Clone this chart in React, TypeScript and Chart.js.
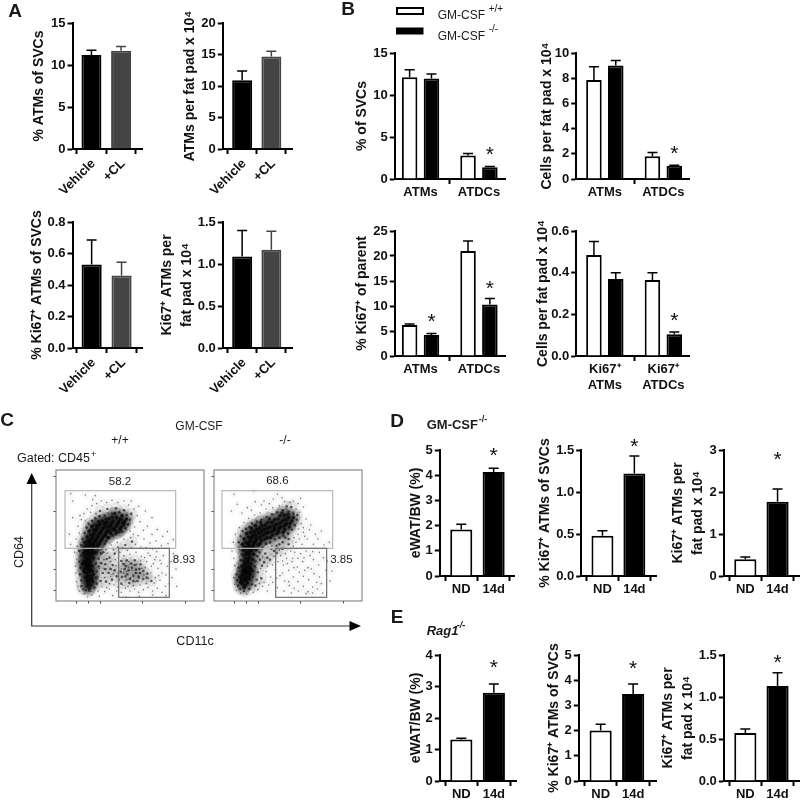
import React, { useEffect, useRef } from "react";
import { Chart, registerables } from "chart.js";

Chart.register(...registerables);

const FONT = '"Liberation Sans", Arial, sans-serif';
const WHITE = "#ffffff";
const BLACK = "#000000";
const GREY = "#444444";

// ---------- Panel A ----------
const aLabels = ["Vehicle", "+CL"];
const a1Values = [11.2, 11.7];
const a1Tops = [11.75, 12.2];
const a2Values = [10.9, 14.7];
const a2Tops = [12.4, 15.5];
const a3Values = [0.53, 0.46];
const a3Tops = [0.685, 0.545];
const a4Values = [1.09, 1.17];
const a4Tops = [1.4, 1.39];

// ---------- Panel B ----------
const bLabels = ["ATMs", "ATDCs"];
const bKiLabels = [["Ki67⁺", "ATMs"], ["Ki67⁺", "ATDCs"]];
const b1WT = [12.1, 2.8];
const b1WTTops = [13, 3.05];
const b1KO = [11.95, 1.4];
const b1KOTops = [12.5, 1.5];
const b1Stars = [null, 3.1];
const b2WT = [7.85, 1.8];
const b2WTTops = [8.9, 2.1];
const b2KO = [9.0, 1.05];
const b2KOTops = [9.4, 1.1];
const b2Stars = [null, 2.16];
const b3WT = [6.2, 21];
const b3WTTops = [6.4, 23];
const b3KO = [4.2, 10.3];
const b3KOTops = [4.5, 11.5];
const b3Stars = [7.3, 14];
const b4WT = [0.485, 0.365];
const b4WTTops = [0.55, 0.4];
const b4KO = [0.37, 0.105];
const b4KOTops = [0.4, 0.115];
const b4Stars = [null, 0.18];

// ---------- Panels D and E ----------
const ndLabels = ["ND", "14d"];
const d1Values = [1.85, 4.13];
const d1Tops = [2.05, 4.28];
const d1Stars = [null, 4.87];
const d2Values = [0.48, 1.22];
const d2Tops = [0.54, 1.43];
const d2Stars = [null, 1.57];
const d3Values = [0.4, 1.77];
const d3Tops = [0.45, 2.07];
const d3Stars = [null, 2.83];
const e1Values = [1.32, 2.8];
const e1Tops = [1.36, 3.08];
const e1Stars = [null, 3.68];
const e2Values = [2.0, 3.45];
const e2Tops = [2.25, 3.85];
const e2Stars = [null, 4.56];
const e3Values = [0.57, 1.13];
const e3Tops = [0.62, 1.29];
const e3Stars = [null, 1.44];

// ---------- Panel C: flow cytometry events ----------
const wtCore = [[97,52],[104,47],[92,60],[101,62],[110,58],[88,71],[96,74],[106,72],[112,80],[90,84],[99,88],[85,95],[94,98],[104,94],[88,108],[97,112],[108,105],[84,120],[93,124],[103,120],[112,128],[87,134],[96,140],[106,136],[88,150],[98,154],[109,150],[120,146],[92,166],[102,170],[113,164],[124,160],[97,182],[107,186],[118,178],[130,172],[104,198],[114,202],[126,194],[138,186],[112,214],[122,218],[135,208],[148,198],[120,228],[132,232],[146,222],[158,212],[140,240],[152,236],[165,226],[176,214],[160,246],[172,240],[186,232],[196,222],[182,250],[194,246],[206,238],[93,44],[100,38],[108,66],[95,66],[84,88],[110,90],[92,104],[101,106],[79,112],[90,116],[98,128],[82,142],[92,146],[102,144],[114,142],[84,160],[97,160],[108,158],[88,176],[100,176],[112,172],[125,168],[94,192],[110,194],[120,186],[134,180],[100,210],[118,210],[130,202],[142,194],[155,190],[108,224],[127,226],[140,216],[152,206],[164,204],[128,238],[146,232],[158,224],[170,216],[182,206],[150,246],[166,234],[180,224],[192,214],[204,228],[170,252],[188,240],[200,234],[176,262],[198,256],[212,246]];
const wtMid = [[76,44],[82,36],[90,32],[100,30],[115,40],[122,52],[120,70],[76,62],[72,80],[122,88],[128,104],[74,100],[70,118],[120,112],[74,136],[128,126],[136,142],[70,150],[138,158],[76,168],[146,172],[80,186],[150,180],[160,190],[86,204],[92,220],[170,196],[178,200],[98,232],[108,240],[190,206],[198,208],[118,248],[130,254],[208,218],[216,230],[222,244],[146,256],[168,262],[190,266],[212,258],[226,262],[204,272],[180,278],[154,276],[132,270],[160,130],[176,142],[148,110],[170,108],[140,84],[158,84],[176,92],[134,60],[150,58],[168,64],[196,120],[210,104],[226,112],[240,94],[214,80],[232,76],[198,72],[252,84],[262,66],[244,60],[220,54],[206,96],[274,82],[286,60],[196,52],[236,122],[254,110],[186,160],[208,168],[228,178],[218,92],[228,100],[236,108],[208,74],[222,66],[240,84],[250,96],[262,90],[272,70],[232,60],[248,72],[204,110],[194,88],[182,74],[212,122],[164,96],[146,96],[152,126],[134,114],[142,146]];
const wtSparse = [[62,58],[66,44],[70,30],[84,22],[108,18],[126,30],[138,42],[146,28],[160,36],[174,48],[182,30],[196,26],[208,38],[222,30],[236,36],[248,26],[262,34],[276,40],[290,30],[304,38],[318,26],[328,44],[340,52],[312,62],[298,70],[318,84],[330,78],[306,98],[286,104],[272,118],[296,124],[316,112],[334,104],[256,134],[276,144],[302,148],[322,136],[240,146],[222,140],[204,136],[192,146],[172,154],[154,144],[144,124],[132,146],[126,72],[152,40],[164,74],[186,84],[180,106],[196,96],[190,64],[212,64],[228,92],[242,110],[258,98],[270,52],[252,48],[232,46],[218,118],[246,76],[268,100],[284,84],[292,112],[308,76],[60,84],[58,104],[62,126],[56,146],[64,164],[60,186],[70,204],[66,224],[76,244],[84,262],[94,276],[108,286],[122,292],[136,300],[44,322],[88,318],[118,316],[152,296],[168,302],[186,296],[204,300],[218,288],[234,276],[244,256],[236,222],[252,238],[262,212],[274,224],[288,200],[304,214],[320,194],[334,208],[246,196],[264,186],[282,174],[300,180],[316,166],[336,172],[352,184],[238,170],[254,162],[270,160],[290,156],[232,200],[222,210],[120,262],[104,266],[88,240],[72,256],[50,250],[40,200],[44,170],[50,300],[110,304],[226,300],[248,284],[268,270],[288,250],[352,142],[345,118],[360,96],[348,70],[362,44],[95,12],[130,14],[170,16],[210,12],[250,14],[290,18],[330,16],[150,96],[130,98],[164,118],[178,124],[200,112],[212,88],[224,70],[238,58],[254,120],[266,130],[282,136],[300,132],[312,122],[186,42],[200,48],[216,44],[202,84],[218,100],[236,84],[250,68],[264,78],[278,68],[294,54],[160,52],[146,70],[172,82],[138,112],[150,154],[166,168],[184,176],[204,186],[224,190],[214,152],[200,160],[226,160]];

const koCore = [[86,52],[94,46],[100,54],[82,64],[90,66],[98,70],[106,66],[84,78],[92,82],[100,86],[108,80],[88,94],[96,98],[104,102],[112,94],[92,110],[100,116],[110,112],[96,128],[106,130],[116,124],[98,146],[108,148],[118,140],[92,160],[104,166],[114,160],[126,154],[96,176],[108,180],[120,174],[132,168],[104,192],[116,196],[128,188],[142,182],[120,208],[134,204],[148,198],[160,190],[136,218],[150,214],[164,206],[176,198],[154,228],[168,222],[182,214],[194,208],[174,236],[188,230],[200,222],[212,214],[192,246],[206,240],[218,232],[226,222],[212,256],[224,250],[234,240],[90,40],[80,56],[96,60],[104,74],[78,72],[86,88],[95,90],[107,90],[84,104],[108,100],[90,120],[102,122],[92,138],[104,140],[88,152],[112,152],[100,158],[86,170],[102,172],[118,166],[90,186],[112,188],[126,180],[138,172],[98,202],[110,206],[124,198],[138,192],[152,186],[112,218],[128,214],[142,208],[156,204],[170,190],[124,226],[144,226],[160,218],[174,210],[188,202],[140,236],[162,236],[180,224],[194,218],[208,206],[166,246],[182,244],[198,234],[212,226],[198,256],[216,244],[228,232],[204,264],[222,260],[238,250]];
const koMid = [[72,46],[78,36],[90,30],[106,36],[114,50],[70,62],[116,72],[68,80],[118,88],[74,100],[122,104],[80,122],[124,118],[84,140],[130,134],[76,158],[136,146],[74,176],[146,160],[80,194],[156,172],[86,210],[168,176],[182,186],[96,216],[106,222],[196,190],[208,196],[114,232],[128,238],[222,202],[234,214],[142,244],[158,252],[242,228],[248,244],[174,260],[190,266],[206,272],[224,268],[238,262],[250,258],[232,282],[218,284],[138,124],[154,142],[172,156],[188,166],[206,176],[150,116],[132,86],[142,68],[124,46],[128,64],[168,124],[188,144],[206,156],[224,186],[224,170],[144,106],[160,130],[180,150],[196,170],[214,190]];
const koSparse = [[60,70],[62,50],[68,32],[80,24],[98,20],[118,26],[132,34],[146,44],[160,30],[176,56],[140,98],[156,88],[170,72],[184,92],[198,76],[212,60],[226,46],[240,38],[254,30],[268,44],[282,28],[296,42],[310,36],[322,52],[208,108],[224,92],[238,72],[252,58],[268,74],[284,64],[300,82],[316,72],[200,136],[218,128],[234,118],[250,102],[266,118],[282,100],[298,124],[314,108],[328,130],[190,40],[210,30],[232,24],[276,22],[176,108],[160,104],[192,118],[242,146],[260,142],[276,150],[296,148],[316,146],[230,150],[246,176],[264,170],[280,186],[298,170],[312,186],[330,168],[346,176],[252,200],[268,206],[286,214],[304,200],[322,210],[262,232],[276,246],[290,228],[256,266],[268,282],[252,292],[238,300],[260,308],[212,298],[196,286],[176,280],[156,276],[138,264],[122,258],[104,248],[90,236],[76,220],[64,200],[58,176],[54,150],[60,128],[62,106],[52,270],[70,290],[100,280],[124,298],[150,300],[178,306],[60,320],[120,330],[190,320],[340,120],[354,90],[348,60],[336,92],[224,58],[206,84],[188,68],[150,56],[164,48],[136,52],[146,132],[128,120],[180,134],[196,152],[174,166],[206,120],[220,112],[240,100],[256,86],[272,92],[292,96],[308,56],[296,24],[326,24],[236,128],[252,128],[270,130],[288,136],[214,142],[238,164],[256,186],[272,194],[240,190],[254,216],[268,220],[246,276],[228,296],[204,310],[166,292],[142,288],[112,272],[84,264]];

// Gates: [xMin, xMax, yMin, yMax] in the same channel units
const wtUpperGate = [27, 359, 158, 331];
const wtLowerGate = [188, 340, 11, 158];
const koUpperGate = [24, 356, 158, 331];
const koLowerGate = [185, 338, 11, 158];
const flowYTicks = [33, 93, 153, 268, 373];
const flowXTicks = [62, 97, 132, 260, 387];

type Series = { values: number[]; tops: number[]; stars?: (number | null)[]; colors: string[]; borders: string[] };
type Panel = {
  left: number; right: number; top: number; bottom: number; t0: number; t1: number; titleX: number;
  max: number; step: number; dec: number; title: string | string[]; labels: any[]; series: Series[];
  rotate?: boolean; barW: number; pair?: number;
};

const bw = (values: number[], tops: number[], stars?: (number | null)[]): Series => ({ values, tops, stars, colors: [WHITE, BLACK], borders: [BLACK, BLACK] });
const ag = (values: number[], tops: number[]): Series => ({ values, tops, colors: [BLACK, GREY], borders: [BLACK, GREY] });
const wt = (values: number[], tops: number[]): Series => ({ values, tops, colors: [WHITE, WHITE], borders: [BLACK, BLACK] });
const ko = (values: number[], tops: number[], stars?: (number | null)[]): Series => ({ values, tops, stars, colors: [BLACK, BLACK], borders: [BLACK, BLACK] });

const panels: Panel[] = [
  { left: 72, right: 141.7, top: 22.7, bottom: 148.7, t0: 91, t1: 120.7, titleX: 39, max: 15, step: 5, dec: 0, title: "% ATMs of SVCs", labels: aLabels, series: [ag(a1Values, a1Tops)], rotate: true, barW: 20 },
  { left: 222.3, right: 291.7, top: 22.7, bottom: 149, t0: 241.7, t1: 271, titleX: 190, max: 20, step: 5, dec: 0, title: "ATMs per fat pad x 10⁴", labels: aLabels, series: [ag(a2Values, a2Tops)], rotate: true, barW: 20 },
  { left: 72, right: 141, top: 222, bottom: 348, t0: 91, t1: 120.7, titleX: 37, max: 0.8, step: 0.2, dec: 1, title: "% Ki67⁺ ATMs of SVCs", labels: aLabels, series: [ag(a3Values, a3Tops)], rotate: true, barW: 20 },
  { left: 222.3, right: 291.7, top: 222, bottom: 348, t0: 241.7, t1: 271, titleX: 167, max: 1.5, step: 0.5, dec: 1, title: ["Ki67⁺ ATMs per", "fat pad x 10⁴"], labels: aLabels, series: [ag(a4Values, a4Tops)], rotate: true, barW: 20 },
  { left: 394.3, right: 504.3, top: 52.7, bottom: 179, t0: 420, t1: 478.3, titleX: 362, max: 15, step: 5, dec: 0, title: "% of SVCs", labels: bLabels, series: [wt(b1WT, b1WTTops), ko(b1KO, b1KOTops, b1Stars)], barW: 15.5, pair: 21.8 },
  { left: 575.7, right: 688.3, top: 52.7, bottom: 179, t0: 604.3, t1: 662.7, titleX: 547, max: 10, step: 2, dec: 0, title: "Cells per fat pad x 10⁴", labels: bLabels, series: [wt(b2WT, b2WTTops), ko(b2KO, b2KOTops, b2Stars)], barW: 15.5, pair: 21.8 },
  { left: 394.3, right: 504.3, top: 230.7, bottom: 356, t0: 420, t1: 478.3, titleX: 362, max: 25, step: 5, dec: 0, title: "% Ki67⁺ of parent", labels: bLabels, series: [wt(b3WT, b3WTTops), ko(b3KO, b3KOTops, b3Stars)], barW: 15.5, pair: 21.8 },
  { left: 575.7, right: 688.3, top: 230.7, bottom: 356, t0: 604.3, t1: 662.7, titleX: 543, max: 0.6, step: 0.2, dec: 1, title: "Cells per fat pad x 10⁴", labels: bKiLabels, series: [wt(b4WT, b4WTTops), ko(b4KO, b4KOTops, b4Stars)], barW: 15.5, pair: 21.8 },
  { left: 439.3, right: 513.3, top: 450, bottom: 576, t0: 460.7, t1: 493, titleX: 416, max: 5, step: 1, dec: 0, title: "eWAT/BW (%)", labels: ndLabels, series: [bw(d1Values, d1Tops, d1Stars)], barW: 22 },
  { left: 580.7, right: 655.7, top: 450, bottom: 576, t0: 602, t1: 634, titleX: 545, max: 1.5, step: 0.5, dec: 1, title: "% Ki67⁺ ATMs of SVCs", labels: ndLabels, series: [bw(d2Values, d2Tops, d2Stars)], barW: 22 },
  { left: 723.3, right: 798, top: 450, bottom: 576, t0: 744.7, t1: 776.7, titleX: 678, max: 3, step: 1, dec: 0, title: ["Ki67⁺ ATMs per", "fat pad x 10⁴"], labels: ndLabels, series: [bw(d3Values, d3Tops, d3Stars)], barW: 22 },
  { left: 439.3, right: 515, top: 655, bottom: 781, t0: 460.7, t1: 493, titleX: 416, max: 4, step: 1, dec: 0, title: "eWAT/BW (%)", labels: ndLabels, series: [bw(e1Values, e1Tops, e1Stars)], barW: 22 },
  { left: 578.3, right: 655, top: 655, bottom: 781, t0: 600, t1: 632.3, titleX: 554, max: 5, step: 1, dec: 0, title: "% Ki67⁺ ATMs of SVCs", labels: ndLabels, series: [bw(e2Values, e2Tops, e2Stars)], barW: 22 },
  { left: 723.3, right: 798, top: 655, bottom: 781, t0: 744.7, t1: 776.7, titleX: 668, max: 1.5, step: 0.5, dec: 1, title: ["Ki67⁺ ATMs per", "fat pad x 10⁴"], labels: ndLabels, series: [bw(e3Values, e3Tops, e3Stars)], barW: 22 },
];

const PAD_TOP = 28;
const PAD_RIGHT = 40;
const BOTTOM_H = 72;
const TITLE_LH = 20;
const TICK_FONT = { family: FONT, size: 13, weight: "bold" as const };

const errorBarsPlugin = {
  id: "errorBars",
  afterDatasetsDraw(chart: any, _a: any, opts: any) {
    const { ctx } = chart;
    const y = chart.scales.y;
    (opts.series as Series[]).forEach((s, i) => {
      const meta = chart.getDatasetMeta(i);
      s.tops.forEach((top, j) => {
        const el = meta.data[j];
        const py = y.getPixelForValue(top);
        const base = y.getPixelForValue(s.values[j]);
        ctx.save();
        ctx.strokeStyle = s.borders[j];
        ctx.lineWidth = 1.5;
        ctx.beginPath();
        ctx.moveTo(el.x, base);
        ctx.lineTo(el.x, py);
        ctx.moveTo(el.x - 5, py);
        ctx.lineTo(el.x + 5, py);
        ctx.stroke();
        ctx.restore();
      });
      if (s.stars) {
        s.stars.forEach((v, j) => {
          if (v === null) return;
          const el = meta.data[j];
          ctx.save();
          ctx.fillStyle = "#111";
          ctx.font = `21px ${FONT}`;
          ctx.textAlign = "center";
          ctx.textBaseline = "alphabetic";
          ctx.fillText("*", el.x, y.getPixelForValue(v) + 8.5);
          ctx.restore();
        });
      }
    });
  },
};

function barConfig(p: Panel) {
  const spacing = p.t1 - p.t0;
  const W = p.left - p.titleX + 7.5;
  const multi = p.series.length > 1;
  return {
    W,
    config: {
      type: "bar" as const,
      data: {
        datasets: p.series.map((s) => ({
          data: s.values.map((v, i) => ({ x: i, y: v })),
          backgroundColor: s.colors,
          borderColor: s.borders,
          borderWidth: 2,
          categoryPercentage: multi ? (2 * (p.pair as number)) / spacing : 1,
          barPercentage: multi ? p.barW / (p.pair as number) : p.barW / spacing,
        })),
      },
      plugins: [errorBarsPlugin],
      options: {
        animation: false,
        responsive: false,
        layout: { padding: { top: PAD_TOP, right: PAD_RIGHT, left: 0, bottom: 0 } },
        plugins: { legend: { display: false }, tooltip: { enabled: false }, errorBars: { series: p.series } },
        scales: {
          x: {
            type: "linear",
            min: (p.left - p.t0) / spacing,
            max: (p.right - p.t0) / spacing,
            offset: false,
            afterBuildTicks: (s: any) => { s.ticks = p.labels.map((_, i) => ({ value: i })); },
            afterFit: (s: any) => { s.height = BOTTOM_H; },
            border: { display: true, color: BLACK, width: 2 },
            grid: { drawOnChartArea: false, drawTicks: true, tickLength: 5, tickWidth: 2, tickColor: BLACK },
            ticks: {
              autoSkip: false,
              maxRotation: p.rotate ? 45 : 0,
              minRotation: p.rotate ? 45 : 0,
              padding: p.rotate ? 2 : 1,
              labelOffset: p.rotate ? 2 : 0,
              color: "#111",
              font: TICK_FONT,
              callback: (_v: any, i: number) => p.labels[i],
            },
          },
          y: {
            min: 0,
            max: p.max,
            afterFit: (s: any) => { s.width = W; },
            border: { display: true, color: BLACK, width: 2 },
            grid: { drawOnChartArea: false, drawTicks: true, tickLength: 5, tickWidth: 2, tickColor: BLACK },
            ticks: { stepSize: p.step, padding: 2, color: "#111", font: TICK_FONT, callback: (v: number) => v.toFixed(p.dec) },
            title: {
              display: true,
              text: p.title,
              color: "#111",
              font: { family: FONT, size: 14, weight: "bold" as const, lineHeight: TITLE_LH / 14 },
              padding: { top: -2.5, bottom: 0 },
            },
          },
        },
      },
    },
  };
}

// ---------- Flow plots ----------
const flowPlugin = {
  id: "flowGates",
  afterDatasetsDraw(chart: any, _a: any, opts: any) {
    const { ctx, chartArea: a, scales } = chart;
    const { x, y } = scales;
    const rect = (g: number[], color: string) => {
      ctx.strokeStyle = color;
      ctx.lineWidth = 1.2;
      ctx.strokeRect(x.getPixelForValue(g[0]), y.getPixelForValue(g[3]), x.getPixelForValue(g[1]) - x.getPixelForValue(g[0]), y.getPixelForValue(g[2]) - y.getPixelForValue(g[3]));
    };
    ctx.save();
    ctx.strokeStyle = "#8a8a8a";
    ctx.lineWidth = 1.2;
    ctx.strokeRect(a.left, a.top, a.right - a.left, a.bottom - a.top);
    rect(opts.upper, "#b8b8b8");
    rect(opts.lower, "#6e6e6e");
    ctx.fillStyle = "#222";
    ctx.font = `11.5px ${FONT}`;
    ctx.textAlign = "center";
    ctx.textBaseline = "middle";
    ctx.fillText(opts.upperText, x.getPixelForValue(opts.upperAt[0]), y.getPixelForValue(opts.upperAt[1]));
    ctx.fillText(opts.lowerText, x.getPixelForValue(opts.lowerAt[0]), y.getPixelForValue(opts.lowerAt[1]));
    ctx.restore();
  },
};

function flowConfig(core: number[][], mid: number[][], sparse: number[][], o: any) {
  const pts = (l: number[][]) => l.map(([x, y]) => ({ x, y }));
  const tick = { drawOnChartArea: false, drawTicks: true, tickLength: 2.5, tickWidth: 1, tickColor: "#444" };
  const layer = (l: number[][], r: number, c: string) => ({ data: pts(l), pointRadius: r, backgroundColor: c, borderWidth: 0 });
  return {
    type: "scatter" as const,
    data: {
      datasets: [
        layer(sparse, 4, "rgba(0,0,0,0.025)"),
        layer(mid, 6, "rgba(0,0,0,0.08)"),
        layer(core, 7, "rgba(0,0,0,0.18)"),
        layer(sparse, 0.8, "rgba(0,0,0,0.5)"),
        layer(mid, 1.3, "rgba(0,0,0,0.6)"),
        layer(core, 1.8, "rgba(0,0,0,0.75)"),
      ],
    },
    plugins: [flowPlugin],
    options: {
      animation: false,
      responsive: false,
      layout: { autoPadding: false, padding: { top: 4, right: 4, left: 0, bottom: 0 } },
      plugins: { legend: { display: false }, tooltip: { enabled: false }, flowGates: o },
      scales: {
        x: {
          type: "linear", min: 0, max: 444,
          afterBuildTicks: (s: any) => { s.ticks = flowXTicks.map((value) => ({ value })); },
          afterFit: (s: any) => { s.height = 6; },
          border: { display: false },
          grid: tick,
          ticks: { display: false },
        },
        y: {
          min: 0, max: 393,
          afterBuildTicks: (s: any) => { s.ticks = flowYTicks.map((value) => ({ value })); },
          afterFit: (s: any) => { s.width = 6; },
          border: { display: false },
          grid: tick,
          ticks: { display: false },
        },
      },
    },
  };
}

// ---------- Free labels, legend and arrows ----------
type Txt = { t: string; x: number; y: number; font: string; color?: string; align?: CanvasTextAlign; rot?: number; sup?: string; supFont?: string; supDx?: number; supDy?: number };
const B18 = `bold 19px ${FONT}`;
const texts: Txt[] = [
  { t: "A", x: 15, y: 12, font: B18, align: "center" },
  { t: "B", x: 348, y: 10, font: B18, align: "center" },
  { t: "C", x: 7, y: 421, font: B18, align: "center" },
  { t: "D", x: 397, y: 422, font: B18, align: "center" },
  { t: "E", x: 397, y: 618, font: B18, align: "center" },
  { t: "GM-CSF", x: 437.7, y: 16, font: `12px ${FONT}`, align: "left", sup: "+/+", supFont: `10px ${FONT}`, supDx: 51, supDy: -7 },
  { t: "GM-CSF", x: 437.7, y: 36.7, font: `12px ${FONT}`, align: "left", sup: "-/-", supFont: `10px ${FONT}`, supDx: 51, supDy: -7 },
  { t: "GM-CSF", x: 199, y: 426.7, font: `12px ${FONT}`, align: "center" },
  { t: "+/+", x: 120, y: 441, font: `12px ${FONT}`, align: "center" },
  { t: "-/-", x: 285, y: 441, font: `12px ${FONT}`, align: "center" },
  { t: "Gated: CD45", x: 17, y: 459, font: `12.5px ${FONT}`, align: "left", sup: "+", supFont: `9px ${FONT}`, supDx: 74, supDy: -4 },
  { t: "CD64", x: 20, y: 552, font: `12.5px ${FONT}`, align: "center", rot: -Math.PI / 2 },
  { t: "CD11c", x: 195, y: 642, font: `12.5px ${FONT}`, align: "center" },
  { t: "GM-CSF", x: 426.7, y: 425, font: `bold 13px ${FONT}`, align: "left", sup: "-/-", supFont: `bold 9px ${FONT}`, supDx: 52, supDy: -5 },
  { t: "Rag1", x: 426.7, y: 631, font: `italic bold 13px ${FONT}`, align: "left", sup: "-/-", supFont: `italic bold 9px ${FONT}`, supDx: 30, supDy: -5 },
];

const overlayPlugin = {
  id: "overlay",
  afterDraw(chart: any) {
    const { ctx } = chart;
    ctx.save();
    // legend swatches
    ctx.fillStyle = WHITE;
    ctx.strokeStyle = BLACK;
    ctx.lineWidth = 2;
    ctx.fillRect(397, 8, 26, 6);
    ctx.strokeRect(397, 8, 26, 6);
    ctx.fillStyle = BLACK;
    ctx.fillRect(396, 27.5, 27.5, 7);
    // panel C axes
    ctx.strokeStyle = "#333";
    ctx.lineWidth = 1.2;
    ctx.beginPath();
    ctx.moveTo(31.7, 480);
    ctx.lineTo(31.7, 626);
    ctx.lineTo(352, 626);
    ctx.stroke();
    ctx.fillStyle = BLACK;
    ctx.beginPath();
    ctx.moveTo(31.7, 473);
    ctx.lineTo(26.5, 484);
    ctx.lineTo(37, 484);
    ctx.closePath();
    ctx.moveTo(361, 626);
    ctx.lineTo(349.5, 621);
    ctx.lineTo(349.5, 631);
    ctx.closePath();
    ctx.fill();
    ctx.textBaseline = "middle";
    texts.forEach((d) => {
      ctx.save();
      ctx.translate(d.x, d.y);
      if (d.rot) ctx.rotate(d.rot);
      ctx.font = d.font;
      ctx.textAlign = d.align || "left";
      ctx.fillStyle = d.color || "#1a1a1a";
      ctx.fillText(d.t, 0, 0);
      if (d.sup) {
        ctx.font = d.supFont;
        ctx.textAlign = "left";
        ctx.fillText(d.sup, d.supDx, d.supDy);
      }
      ctx.restore();
    });
    ctx.restore();
  },
};

function Cv({ make, style, w, h }: { make: () => any; style: React.CSSProperties; w: number; h: number }) {
  const ref = useRef<HTMLCanvasElement>(null);
  useEffect(() => {
    const c = new Chart(ref.current as HTMLCanvasElement, make());
    return () => c.destroy();
  }, []);
  return <canvas ref={ref} width={w} height={h} style={{ position: "absolute", display: "block", width: w, height: h, ...style }} />;
}

export default function App() {
  return (
    <div style={{ position: "absolute", left: 0, top: 0, width: 800, height: 800, overflow: "hidden", background: "#fff" }}>
      <Cv
        w={800}
        h={800}
        style={{ left: 0, top: 0 }}
        make={() => ({
          type: "scatter",
          data: { datasets: [] },
          plugins: [overlayPlugin],
          options: { animation: false, responsive: false, plugins: { legend: { display: false } }, scales: { x: { display: false }, y: { display: false } } },
        })}
      />
      {panels.map((p, i) => {
        const { W, config } = barConfig(p);
        const w = Math.round(W + (p.right - p.left) + PAD_RIGHT);
        const h = Math.round(PAD_TOP + (p.bottom - p.top) + BOTTOM_H);
        return <Cv key={i} w={w} h={h} style={{ left: p.left - W, top: p.top - PAD_TOP }} make={() => config} />;
      })}
      <Cv w={158} h={141} style={{ left: 50, top: 466 }} make={() => flowConfig(wtCore, wtMid, wtSparse, { upper: wtUpperGate, lower: wtLowerGate, upperText: "58.2", lowerText: "8.93", upperAt: [192, 358], lowerAt: [384, 124] })} />
      <Cv w={158} h={141} style={{ left: 208, top: 466 }} make={() => flowConfig(koCore, koMid, koSparse, { upper: koUpperGate, lower: koLowerGate, upperText: "68.6", lowerText: "3.85", upperAt: [190, 360], lowerAt: [382, 124] })} />
    </div>
  );
}
